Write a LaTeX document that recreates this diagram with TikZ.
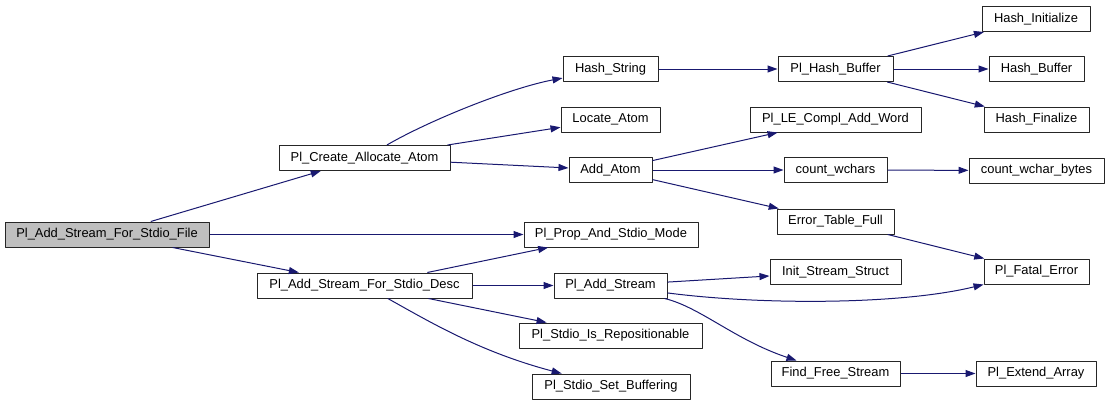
\documentclass[tikz,border=0pt]{standalone}
\usepackage{fontspec}
\setmainfont{Liberation Sans}
\usetikzlibrary{arrows.meta}

\definecolor{edgeblue}{RGB}{25,25,112}
\definecolor{rootgray}{RGB}{191,191,191}

\tikzset{
  fn/.style={draw=black!85, line width=1pt, rectangle, inner sep=0pt,
    minimum height=25pt, font=\fontsize{12.9}{14}\selectfont},
  root/.style={fn, fill=rootgray},
  call/.style={draw=edgeblue, line width=1pt, -{Triangle[length=10pt,width=7pt]}}
}

\begin{document}
\begin{tikzpicture}[x=1pt, y=-1pt, line join=round]

\useasboundingbox (0,0) rectangle (1109,405);

% --- Column 0 : the caller ---
\node[root, minimum width=204pt] (file) at (107,234.5) {Pl\_Add\_Stream\_For\_Stdio\_File};

% --- Column 1 ---
\node[fn, minimum width=171pt] (create) at (364.5,158)   {Pl\_Create\_Allocate\_Atom};
\node[fn, minimum width=215pt] (desc)   at (364.5,285.5) {Pl\_Add\_Stream\_For\_Stdio\_Desc};

% --- Column 2 ---
\node[fn, minimum width=95pt]  (hstr)      at (610.5,69)    {Hash\_String};
\node[fn, minimum width=99pt]  (locate)    at (610.5,119.5) {Locate\_Atom};
\node[fn, minimum width=83pt]  (addatom)   at (610.5,170)   {Add\_Atom};
\node[fn, minimum width=174pt] (prop)      at (611,234.5)   {Pl\_Prop\_And\_Stdio\_Mode};
\node[fn, minimum width=113pt] (addstream) at (610.5,285.5) {Pl\_Add\_Stream};
\node[fn, minimum width=183pt] (repos)     at (610.5,335.5) {Pl\_Stdio\_Is\_Repositionable};
\node[fn, minimum width=158pt] (sbuf)      at (611,386.5)   {Pl\_Stdio\_Set\_Buffering};

% --- Column 3 ---
\node[fn, minimum width=115pt] (phb)     at (835.5,69)    {Pl\_Hash\_Buffer};
\node[fn, minimum width=171pt] (lecompl) at (835.5,119.5) {Pl\_LE\_Compl\_Add\_Word};
\node[fn, minimum width=103pt] (cwch)    at (835.5,170)   {count\_wchars};
\node[fn, minimum width=117pt] (etf)     at (835.5,221.5) {Error\_Table\_Full};
\node[fn, minimum width=131pt] (iss)     at (835.5,272)   {Init\_Stream\_Struct};
\node[fn, minimum width=129pt] (ffs)     at (835.5,373.5) {Find\_Free\_Stream};

% --- Column 4 ---
\node[fn, minimum width=108pt] (hinit)  at (1036,19)      {Hash\_Initialize};
\node[fn, minimum width=95pt]  (hbuf)   at (1036.5,69)    {Hash\_Buffer};
\node[fn, minimum width=105pt] (hfin)   at (1036.5,119.5) {Hash\_Finalize};
\node[fn, minimum width=135pt] (cwb)    at (1036.5,170.5) {count\_wchar\_bytes};
\node[fn, minimum width=105pt] (fatal)  at (1036.5,271.5) {Pl\_Fatal\_Error};
\node[fn, minimum width=120pt] (extend) at (1036,373.5)   {Pl\_Extend\_Array};

% --- Calls ---
\draw[call] (file) -- (create);
\draw[call] (file) -- (prop);
\draw[call] (file) -- (desc);

\draw[call] (create) .. controls (430,120) and (510,88) .. (hstr);
\draw[call] (create) -- (locate);
\draw[call] (create) -- (addatom);

\draw[call] (desc) -- (prop);
\draw[call] (desc) -- (addstream);
\draw[call] (desc) -- (repos);
\draw[call] (desc) .. controls (430,322) and (480,352) .. (sbuf);

\draw[call] (hstr) -- (phb);
\draw[call] (addatom) -- (lecompl);
\draw[call] (addatom) -- (cwch);
\draw[call] (addatom) -- (etf);

\draw[call] (addstream) -- (iss);
\draw[call] (addstream) .. controls (760,305) and (900,305) .. (fatal);
\draw[call] (addstream) .. controls (700,307) and (735,340) .. (ffs);

\draw[call] (phb) -- (hinit);
\draw[call] (phb) -- (hbuf);
\draw[call] (phb) -- (hfin);
\draw[call] (cwch) -- (cwb);
\draw[call] (etf) -- (fatal);
\draw[call] (ffs) -- (extend);

\end{tikzpicture}
\end{document}
